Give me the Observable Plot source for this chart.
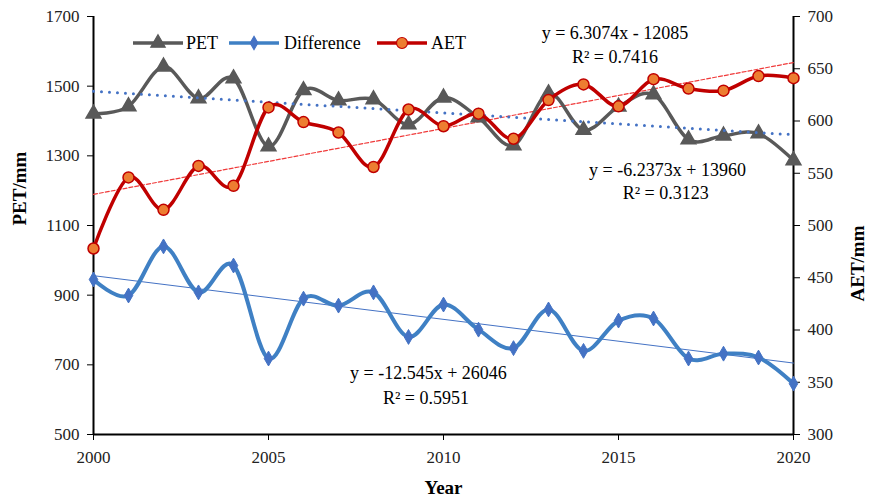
<!DOCTYPE html>
<html>
<head>
<meta charset="utf-8">
<script src="https://cdn.jsdelivr.net/npm/d3@7"></script>
<script src="https://cdn.jsdelivr.net/npm/@observablehq/plot@0.6"></script>
<style>
  body { margin: 0; background: #fff; }
  #wrap { position: relative; width: 870px; height: 504px; font-family: "Liberation Serif", serif; }
  #wrap svg, #wrap svg text { font-family: "Liberation Serif", serif !important; }
  #legend { position: absolute; left: 0; top: 0; }
</style>
</head>
<body>
<div id="wrap"></div>
<script>
const years = [2000,2001,2002,2003,2004,2005,2006,2007,2008,2009,2010,2011,2012,2013,2014,2015,2016,2017,2018,2019,2020];
const pet = [1421,1442,1556,1465,1522,1327,1488,1459,1462,1390,1467,1410,1330,1479,1374,1441,1476,1347,1358,1364,1287];
const difference = [945,899,1040,908,985,718,890,870,908,780,873,801,748,859,740,827,833,718,732,721,646];
const aet = [478,546,515,557,538,613,599,589,556,611,595,607,583,620,635,614,640,631,629,643,641];

const xTicks = [2000,2005,2010,2015,2020];
const leftTicks = [500,700,900,1100,1300,1500,1700];
const rightTicks = [300,350,400,450,500,550,600,650,700];

// trend equations: PET, AET, Difference
const trendNames = ["PET","AET","Difference"];
const trendSlopes = [-6.2373, 6.3074, -12.545];
const trendIntercepts = [13960, -12085, 26046];
const trendR2 = ["0.3123","0.7416","0.5951"];

// right axis (AET) mapped onto left scale
const toLeft = v => 500 + (v - 300) * 3;
const fromLeft = v => (v - 500) / 3 + 300;

const petData = years.map((y,i) => ({year:y, v:pet[i]}));
const diffData = years.map((y,i) => ({year:y, v:difference[i]}));
const aetData = years.map((y,i) => ({year:y, v:toLeft(aet[i])}));

function trend(k, map) {
  const ends = [years[0], years[years.length-1]];
  return ends.map(x => ({year:x, v: map(trendSlopes[k]*x + trendIntercepts[k])}));
}
const fmtEq = k => {
  const b = trendIntercepts[k];
  return `y = ${trendSlopes[k]}x ${b < 0 ? "- " + (-b) : "+ " + b}`;
};

const FF = "Liberation Serif, serif";
const cPET = "#595959", cDiff = "#3f80c4", cDiffMk = "#4472c4", cAET = "#c00000", cAETfill = "#ed7d31";
const T = {fontFamily: FF, fill: "#000"};

const chart = Plot.plot({
  width: 870,
  height: 504,
  marginLeft: 93,
  marginRight: 77,
  marginTop: 16,
  marginBottom: 70,
  style: {fontFamily: FF, fontSize: "17px", color: "#000", background: "#fff"},
  x: {domain: [2000, 2020]},
  y: {domain: [500, 1700]},
  marks: [
    Plot.axisX(xTicks, {tickSize: 6, tickPadding: 10, tickFormat: d => String(d), fontSize: 17, fontFamily: FF, fill: "#222", label: null}),
    Plot.axisY(leftTicks, {tickSize: 6, tickPadding: 8, tickFormat: d => String(d), fontSize: 17, fontFamily: FF, fill: "#222", label: null}),
    Plot.axisY(rightTicks.map(toLeft), {anchor: "right", tickSize: 6, tickPadding: 8, fontSize: 17, fontFamily: FF, fill: "#222", label: null, tickFormat: d => String(Math.round(fromLeft(d)))}),
    Plot.ruleX([2000], {stroke: "#000", strokeWidth: 2}),
    Plot.ruleX([2020], {stroke: "#000", strokeWidth: 2}),
    Plot.ruleY([500], {stroke: "#000", strokeWidth: 2}),
    // trend lines
    Plot.line(trend(2, v => v), {x: "year", y: "v", stroke: cDiffMk, strokeWidth: 1}),
    Plot.line(trend(1, toLeft), {x: "year", y: "v", stroke: "#f03a3a", strokeWidth: 1.2, strokeDasharray: "4 2"}),
    // series
    Plot.line(diffData, {x: "year", y: "v", stroke: cDiff, strokeWidth: 4, curve: "cardinal"}),
    Plot.dot(diffData, {x: "year", y: "v", symbol: "diamond", r: 4.5, fill: cDiffMk, stroke: cDiffMk, strokeWidth: 1}),
    Plot.line(petData, {x: "year", y: "v", stroke: cPET, strokeWidth: 3.5, curve: "cardinal"}),
    Plot.dot(petData, {x: "year", y: "v", symbol: "triangle", r: 5.5, fill: cPET, stroke: cPET}),
    Plot.line(trend(0, v => v), {x: "year", y: "v", stroke: cDiffMk, strokeWidth: 3, strokeDasharray: "0 8", strokeLinecap: "round"}),
    Plot.line(aetData, {x: "year", y: "v", stroke: cAET, strokeWidth: 3.5, curve: "cardinal"}),
    Plot.dot(aetData, {x: "year", y: "v", r: 5.5, fill: cAETfill, stroke: cAET, strokeWidth: 1.5}),
    // equations
    Plot.text([fmtEq(1)], {x: 2014.9, y: 1651, fontSize: 18, ...T}),
    Plot.text(["R² = " + trendR2[1]], {x: 2014.9, y: 1582, fontSize: 18, ...T}),
    Plot.text([fmtEq(0)], {x: 2016.4, y: 1258, fontSize: 18, ...T}),
    Plot.text(["R² = " + trendR2[0]], {x: 2016.35, y: 1192, fontSize: 18, ...T}),
    Plot.text([fmtEq(2)], {x: 2009.57, y: 675, fontSize: 18, ...T}),
    Plot.text(["R² = " + trendR2[2]], {x: 2009.5, y: 603, fontSize: 18, ...T}),
    // axis titles
    Plot.text(["PET/mm"], {frameAnchor: "left", dx: -74, rotate: -90, fontSize: 19, fontWeight: "bold", ...T}),
    Plot.text(["AET/mm"], {frameAnchor: "right", dx: 64, rotate: -90, fontSize: 19, fontWeight: "bold", ...T}),
    Plot.text(["Year"], {frameAnchor: "bottom", dy: 59, fontSize: 19, fontWeight: "bold", ...T})
  ]
});

const wrap = document.getElementById("wrap");
wrap.appendChild(chart);

// legend overlay
const legendItems = [
  {name: "PET", line: cPET, sym: d3.symbolTriangle, size: 90, fill: cPET, stroke: cPET, x: 133, tx: 186},
  {name: "Difference", line: cDiff, sym: d3.symbolDiamond, size: 50, fill: cDiffMk, stroke: cDiffMk, x: 229, tx: 284},
  {name: "AET", line: cAET, sym: d3.symbolCircle, size: 95, fill: cAETfill, stroke: cAET, x: 377, tx: 431}
];
const lg = d3.create("svg").attr("id", "legend").attr("width", 870).attr("height", 70);
const ly = 43;
for (const it of legendItems) {
  lg.append("line").attr("x1", it.x).attr("x2", it.x + 50).attr("y1", ly).attr("y2", ly)
    .attr("stroke", it.line).attr("stroke-width", 3.5);
  lg.append("path").attr("d", d3.symbol(it.sym, it.size)()).attr("transform", `translate(${it.x + 25},${ly})`)
    .attr("fill", it.fill).attr("stroke", it.stroke).attr("stroke-width", 1.2);
  lg.append("text").attr("x", it.tx).attr("y", ly).attr("dy", "0.35em")
    .attr("font-family", FF).attr("font-size", 18).attr("fill", "#000").text(it.name);
}
wrap.appendChild(lg.node());
</script>
</body>
</html>
